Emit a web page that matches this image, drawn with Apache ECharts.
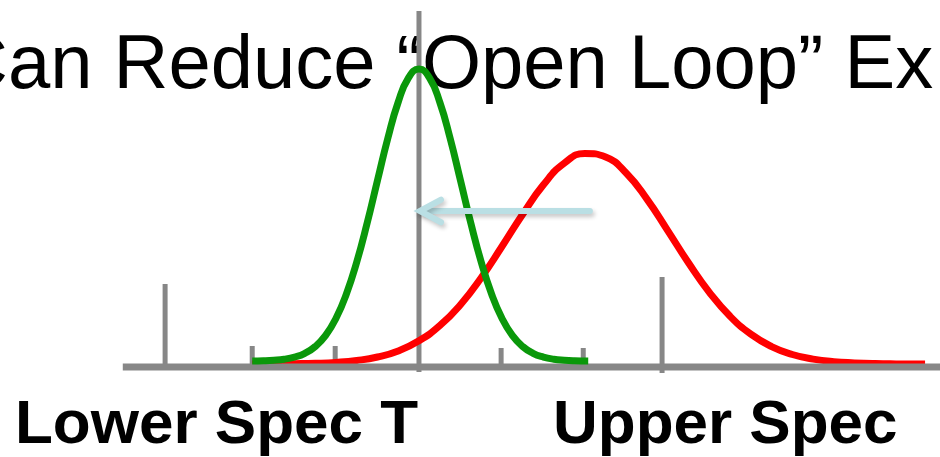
<!DOCTYPE html>
<html>
<head>
<meta charset="utf-8">
<script src="https://cdn.jsdelivr.net/npm/echarts@6/dist/echarts.min.js"></script>
<style>
  html, body { margin: 0; padding: 0; background: #ffffff; }
  #chart { width: 940px; height: 457px; }
</style>
</head>
<body>
<div id="chart"></div>
<script>
// Horizontal positions are in spec units (target at 0), heights in density units.

// Narrow (closed-loop) distribution, centred on target
const greenX = [-2.01, -1.875, -1.75, -1.625, -1.5, -1.375, -1.25, -1.125, -1, -0.875, -0.75, -0.625, -0.5, -0.375, -0.25, -0.125, 0,
                0.125, 0.25, 0.375, 0.5, 0.625, 0.75, 0.875, 1, 1.125, 1.25, 1.375, 1.5, 1.625, 1.75, 1.875, 2.04];
const greenY = [6.1, 6.3, 6.8, 7.8, 9.9, 13.7, 20.5, 31.6, 48.7, 73.0, 105.0, 143.8, 186.6, 228.9, 265.0, 289.3, 298,
                289.3, 265.0, 228.9, 186.6, 143.8, 105.0, 73.0, 48.7, 31.6, 20.5, 13.7, 9.9, 7.8, 6.8, 6.3, 6.1];

// Wide (open-loop) distribution, shifted toward the upper spec
const redX = [-2.01, -1.75, -1.5, -1.25, -1, -0.75, -0.5, -0.25, 0, 0.25, 0.5, 0.75, 1, 1.25, 1.5, 1.75, 2, 2.25,
              2.5, 2.75, 3, 3.25, 3.5, 3.75, 4, 4.25, 4.5, 4.75, 5, 5.25, 5.5, 5.75, 6, 6.1];
const redY = [3.0, 3.1, 3.3, 3.7, 4.6, 6.5, 10.0, 16.1, 26.2, 41.3, 62.3, 89.3, 120.5, 152.8, 182.2, 203.7, 213.6, 210.0,
              193.7, 167.6, 136.2, 104.0, 74.7, 50.7, 32.8, 20.4, 12.5, 7.9, 5.3, 4.1, 3.4, 3.1, 3.0, 3.0];

// Tick marks on the measurement axis: spec limits (tall), target line, and unit ticks
const tickX = [-3.06, -2.01, -1.01, 0, 0.99, 1.98, 2.93];
const tickTop = [83, 21, 21, 356, 19, 19, 90];
const tickBottom = [0, 0, 0, -5, 0, 0, -6];

// Extent of the measurement axis
const baselineX = [-3.57, 6.28];

// Shift arrow: from the open-loop mean back to target
const arrowFrom = [2.06, 156];
const arrowTo = [0.01, 156];

const titleText = 'Can Reduce \u201COpen Loop\u201D Ex';
const lowerLabel = 'Lower Spec T';
const upperLabel = 'Upper Spec';

const GRAY = '#878787';
const GREEN = '#0a980a';
const RED = '#ff0000';
const ARROW = '#badfe4';

const zip = (xs, ys) => xs.map((x, i) => [x, ys[i]]);

const chart = echarts.init(document.getElementById('chart'), null, { renderer: 'canvas' });

chart.setOption({
  animation: false,
  backgroundColor: '#ffffff',
  grid: { left: 0, right: 0, top: 0, bottom: 90 },
  xAxis: { type: 'value', min: -5.05, max: 6.28, show: false },
  yAxis: { type: 'value', min: 0, max: 367, show: false },
  graphic: [
    {
      type: 'text', z: 0, x: -47, y: 67,
      style: {
        text: titleText, fill: '#000000',
        font: '76px "Liberation Sans", Arial, sans-serif',
        textAlign: 'left', textVerticalAlign: 'middle',
        shadowColor: 'rgba(0,0,0,0.35)', shadowBlur: 3, shadowOffsetX: 2, shadowOffsetY: 2
      }
    },
    {
      type: 'text', z: 0, x: 15, y: 426,
      style: {
        text: lowerLabel, fill: '#000000',
        font: 'bold 62px "Liberation Sans", Arial, sans-serif',
        textAlign: 'left', textVerticalAlign: 'middle'
      }
    },
    {
      type: 'text', z: 0, x: 553, y: 426,
      style: {
        text: upperLabel, fill: '#000000',
        font: 'bold 62px "Liberation Sans", Arial, sans-serif',
        textAlign: 'left', textVerticalAlign: 'middle'
      }
    }
  ],
  series: [
    {
      name: 'ticks',
      type: 'custom',
      z: 3,
      clip: false,
      data: tickX.map((x, i) => [x, tickBottom[i], tickTop[i]]),
      renderItem: (params, api) => {
        const p0 = api.coord([api.value(0), api.value(1)]);
        const p1 = api.coord([api.value(0), api.value(2)]);
        return {
          type: 'line',
          shape: { x1: p0[0], y1: p0[1], x2: p1[0], y2: p1[1] },
          style: { stroke: GRAY, lineWidth: 5, lineCap: 'butt' }
        };
      }
    },
    {
      name: 'open loop',
      type: 'line',
      z: 4,
      clip: false,
      smooth: 0.5,
      showSymbol: false,
      data: zip(redX, redY),
      lineStyle: { color: RED, width: 7, cap: 'butt', join: 'round' }
    },
    {
      name: 'axis',
      type: 'line',
      z: 5,
      clip: false,
      showSymbol: false,
      data: baselineX.map(x => [x, 0]),
      lineStyle: { color: GRAY, width: 7, cap: 'butt' }
    },
    {
      name: 'closed loop',
      type: 'line',
      z: 6,
      clip: false,
      smooth: 0.5,
      showSymbol: false,
      data: zip(greenX, greenY),
      lineStyle: { color: GREEN, width: 7, cap: 'butt', join: 'round' }
    },
    {
      name: 'shift',
      type: 'custom',
      z: 7,
      clip: false,
      data: [[arrowFrom[0], arrowFrom[1], arrowTo[0], arrowTo[1]]],
      renderItem: (params, api) => {
        const a = api.coord([api.value(0), api.value(1)]);
        const b = api.coord([api.value(2), api.value(3)]);
        const len = 24, ang = 28 * Math.PI / 180;
        const dir = Math.atan2(a[1] - b[1], a[0] - b[0]);
        const p1 = [b[0] + len * Math.cos(dir + ang), b[1] + len * Math.sin(dir + ang)];
        const p2 = [b[0] + len * Math.cos(dir - ang), b[1] + len * Math.sin(dir - ang)];
        const st = {
          stroke: ARROW, lineWidth: 6, fill: null, lineCap: 'round', lineJoin: 'miter',
          shadowColor: 'rgba(0,0,0,0.22)', shadowBlur: 4, shadowOffsetX: 2, shadowOffsetY: 3
        };
        return {
          type: 'group',
          children: [
            { type: 'line', shape: { x1: a[0], y1: a[1], x2: b[0] + 3, y2: b[1] }, style: st },
            { type: 'polyline', shape: { points: [p1, b, p2] }, style: st }
          ]
        };
      }
    }
  ]
});
</script>
</body>
</html>
